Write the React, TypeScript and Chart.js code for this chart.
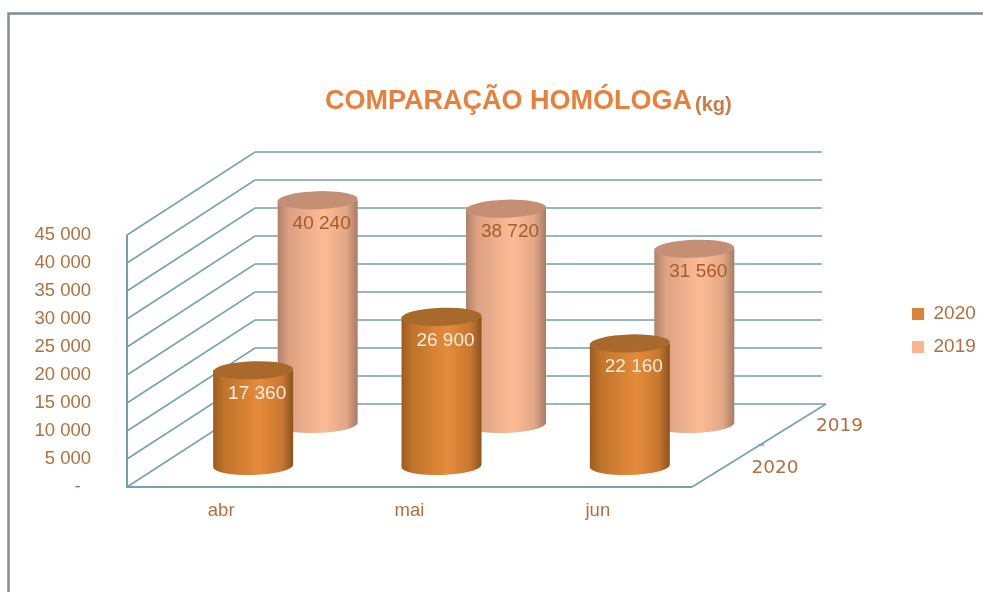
import React, { useEffect, useRef } from "react";
import { Chart, registerables } from "chart.js";

Chart.register(...registerables);

const categories = ["abr", "mai", "jun"];
const values2020 = [17360, 26900, 22160];
const values2019 = [40240, 38720, 31560];
const seriesNames = ["2020", "2019"];
const titleMain = "COMPARAÇÃO HOMÓLOGA";
const titleUnit = "(kg)";

const FONT = "'Liberation Sans', Arial, sans-serif";
const TEXT = "#b0703f";
const GRID = "#72a3b2";

const fmt = (v: number) =>
  v === 0 ? "-  " : String(v).replace(/\B(?=(\d{3})+$)/g, " ");

// Depth placement of each series in the pseudo-3D floor (front, back)
const depth = [
  { dx: 32, dy: -21 },
  { dx: 96.5, dy: -63 },
];
const WALL = { dx: 128, dy: -83 };

const looks = [
  {
    stops: ["#9c5c1e", "#c0742b", "#e68b3b", "#c87730", "#8a5220"],
    top: "#a9692c",
    label: "#fbeee0",
  },
  {
    stops: ["#b08269", "#dca283", "#fdbb95", "#e2a785", "#a67b66"],
    top: "#c48f75",
    label: "#a85a2a",
  },
];

function cylinder(ctx: CanvasRenderingContext2D, cx: number, ty: number, by: number, look: (typeof looks)[number]) {
  const rx = 40;
  const ry = 9;
  const rot = -0.03;
  const g = ctx.createLinearGradient(cx - rx, 0, cx + rx, 0);
  [0, 0.14, 0.58, 0.86, 1].forEach((p, i) => g.addColorStop(p, look.stops[i]));
  ctx.beginPath();
  ctx.moveTo(cx - rx, ty);
  ctx.lineTo(cx - rx, by);
  ctx.ellipse(cx, by, rx, ry, rot, Math.PI, 0, true);
  ctx.lineTo(cx + rx, ty);
  ctx.closePath();
  ctx.fillStyle = g;
  ctx.fill();
  ctx.beginPath();
  ctx.ellipse(cx, ty, rx, ry, rot, 0, Math.PI * 2);
  ctx.fillStyle = look.top;
  ctx.fill();
}

const scene3d = {
  id: "scene3d",
  afterLayout(chart: any) {
    const t = chart.titleBlock;
    if (t) {
      t.left = 325;
      t.right = 325 + 370;
    }
    const l = chart.legend;
    if (l) {
      l.left = 912 - 14;
      l.right = 983;
      l.top = 290.5;
      l.bottom = 420;
    }
  },
  beforeDraw(chart: any) {
    const ctx = chart.ctx as CanvasRenderingContext2D;
    ctx.save();
    ctx.fillStyle = "#ffffff";
    ctx.fillRect(0, 0, chart.width, chart.height);
    ctx.strokeStyle = "#7f8f95";
    ctx.lineWidth = 2.5;
    ctx.beginPath();
    ctx.moveTo(8.5, chart.height);
    ctx.lineTo(8.5, 13.5);
    ctx.lineTo(chart.width, 13.5);
    ctx.stroke();
    ctx.restore();
  },
  beforeDatasetsDraw(chart: any) {
    const ctx = chart.ctx as CanvasRenderingContext2D;
    const { x, y } = chart.scales;
    const { left, right, bottom, top } = chart.chartArea;
    ctx.save();

    // walls and floor
    ctx.strokeStyle = GRID;
    ctx.lineWidth = 1.5;
    y.ticks.forEach((t: any) => {
      const py = y.getPixelForValue(t.value);
      ctx.beginPath();
      ctx.moveTo(left, py);
      ctx.lineTo(left + WALL.dx, py + WALL.dy);
      ctx.lineTo(right + WALL.dx + (t.value === 0 ? 6 : 2), py + WALL.dy);
      ctx.stroke();
    });
    ctx.beginPath();
    ctx.moveTo(right, bottom);
    ctx.lineTo(right + WALL.dx + 6, bottom + WALL.dy);
    ctx.stroke();
    ctx.beginPath();
    ctx.moveTo(right + 66, bottom - 42);
    ctx.lineTo(right + 72, bottom - 42);
    ctx.stroke();
    ctx.lineWidth = 2;
    ctx.beginPath();
    ctx.moveTo(left, top);
    ctx.lineTo(left, bottom);
    ctx.lineTo(right, bottom);
    ctx.stroke();

    // depth axis labels
    ctx.font = `18.5px 'DejaVu Sans', sans-serif`;
    ctx.fillStyle = TEXT;
    ctx.textAlign = "center";
    ctx.textBaseline = "middle";
    seriesNames.forEach((name, s) => {
      ctx.fillText(name, right + depth[s].dx + 51, bottom + depth[s].dy + 2);
    });

    // cylinders: back row first
    [1, 0].forEach((s) => {
      const ds = chart.data.datasets[s];
      ds.data.forEach((v: number, i: number) => {
        const cx = x.getPixelForValue(i) + depth[s].dx;
        const by = y.getPixelForValue(0) + depth[s].dy;
        const ty = y.getPixelForValue(v) + depth[s].dy + 1.5;
        cylinder(ctx, cx, ty, by, looks[s]);
        ctx.font = `19px ${FONT}`;
        ctx.fillStyle = looks[s].label;
        ctx.textAlign = "center";
        ctx.textBaseline = "middle";
        ctx.fillText(fmt(v), cx + 4, ty + 23.5);
      });
    });

    // unit next to the title
    ctx.font = `bold 20px ${FONT}`;
    ctx.fillStyle = "#c97b48";
    ctx.textAlign = "left";
    ctx.textBaseline = "alphabetic";
    ctx.fillText(titleUnit, 695, 111);
    ctx.restore();
    return false;
  },
};

export default function App() {
  const ref = useRef<HTMLCanvasElement>(null);
  useEffect(() => {
    const chart = new Chart(ref.current!, {
      type: "bar",
      data: {
        labels: categories,
        datasets: [
          { label: seriesNames[0], data: values2020, backgroundColor: "#d9823a" },
          { label: seriesNames[1], data: values2019, backgroundColor: "#fbb48c" },
        ],
      },
      options: {
        responsive: false,
        animation: false,
        layout: { padding: { right: 200 } },
        plugins: {
          tooltip: { enabled: false },
          title: {
            display: true,
            text: titleMain,
            align: "start",
            color: "#e8803c",
            font: { family: FONT, size: 27, weight: "bold", lineHeight: 1.2 },
            padding: { top: 85.5, bottom: 117.1 },
          },
          legend: {
            position: "right",
            align: "start",
            labels: {
              boxWidth: 12,
              boxHeight: 12,
              padding: 14,
              color: TEXT,
              font: { family: FONT, size: 19 },
            },
          },
        },
        scales: {
          x: {
            grid: { display: false, drawTicks: false },
            border: { display: false },
            afterFit: (s: any) => {
              s.height = 105;
            },
            ticks: {
              color: TEXT,
              padding: 13,
              font: { family: FONT, size: 18.5 },
            },
          },
          y: {
            min: 0,
            max: 45000,
            grid: { display: false, drawTicks: false },
            border: { display: false },
            afterFit: (s: any) => {
              s.width = 127;
            },
            ticks: {
              stepSize: 5000,
              color: TEXT,
              padding: 36,
              font: { family: FONT, size: 18.5 },
              callback: (v: any) => fmt(Number(v)),
            },
          },
        },
      },
      plugins: [scene3d],
    } as any);
    // settle the right-hand gap so the plot ends where the floor's front edge ends
    const delta = chart.chartArea.right - 692;
    (chart.options.layout as any).padding.right += delta;
    chart.update();
    return () => chart.destroy();
  }, []);
  return (
    <div style={{ position: "fixed", left: 0, top: 0, width: 983, height: 592, background: "#fff" }}>
      <canvas ref={ref} width={983} height={592} style={{ display: "block" }} />
    </div>
  );
}
